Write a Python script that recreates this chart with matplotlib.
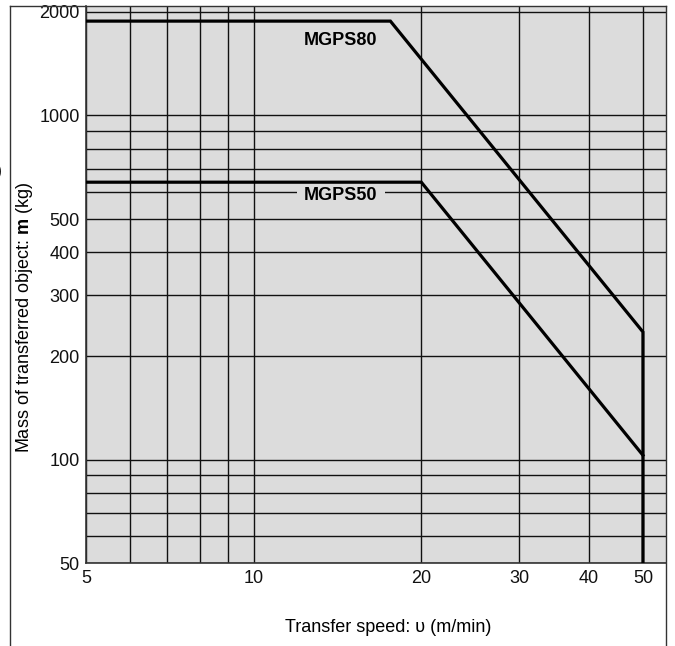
import matplotlib
matplotlib.use("Agg")
import matplotlib.pyplot as plt
from matplotlib.lines import Line2D

plt.rcParams["font.family"] = ["Liberation Sans", "DejaVu Sans"]
plt.rcParams["mathtext.fontset"] = "custom"
plt.rcParams["mathtext.rm"] = "Liberation Sans"
plt.rcParams["mathtext.bf"] = "Liberation Sans:bold"

# Data
mgps80_speed = [5, 17.6, 50, 50]
mgps80_mass = [1880, 1880, 235, 50]
mgps50_speed = [5, 20, 50]
mgps50_mass = [640, 640, 103]

x_grid = [5, 6, 7, 8, 9, 10, 20, 30, 40, 50]
x_labels = [5, 10, 20, 30, 40, 50]
y_grid = [50, 60, 70, 80, 90, 100, 200, 300, 400, 500, 600, 700, 800, 900, 1000, 2000]
y_labels = [50, 100, 200, 300, 400, 500, 1000, 2000]

bg = "#dcdcdc"
fs = 13

fig = plt.figure(figsize=(6.75, 6.46), dpi=100)
ax = fig.add_axes([86 / 675, 1 - 563.3 / 646, 580 / 675, 557.3 / 646])
ax.set_facecolor(bg)
ax.set_xscale("log")
ax.set_yscale("log")
ax.set_xlim(5, 55)
ax.set_ylim(50, 2080)

ax.xaxis.set_minor_locator(matplotlib.ticker.NullLocator())
ax.yaxis.set_minor_locator(matplotlib.ticker.NullLocator())
ax.set_xticks(x_grid)
ax.set_xticklabels([str(v) if v in x_labels else "" for v in x_grid])
ax.set_yticks(y_grid)
ax.set_yticklabels([str(v) if v in y_labels else "" for v in y_grid])
ax.tick_params(length=0, labelsize=fs, colors="#111111")
ax.tick_params(axis="y", pad=4.5)
ax.tick_params(axis="x", pad=5)
ax.grid(True, color="#111111", linewidth=1.0)
ax.set_axisbelow(True)

for side in ["top", "right"]:
    ax.spines[side].set_visible(False)
for side in ["left", "bottom"]:
    ax.spines[side].set_color("#333333")
    ax.spines[side].set_linewidth(1.2)

ax.plot(mgps80_speed, mgps80_mass, color="black", linewidth=2.3,
        solid_joinstyle="miter", zorder=5)
ax.plot(mgps50_speed, mgps50_mass, color="black", linewidth=2.3,
        solid_joinstyle="miter", zorder=5)

label_x = 5 * 10 ** ((341 - 86) / 557)
ax.text(label_x, 1656, "MGPS80", fontsize=fs, fontweight="bold",
        ha="center", va="center", zorder=3)
ax.text(label_x, 585, "MGPS50", fontsize=fs, fontweight="bold",
        ha="center", va="center", zorder=3,
        bbox=dict(facecolor=bg, edgecolor="none", pad=5))

fig.text(388 / 675, 1 - 628 / 646, "Transfer speed: υ (m/min)", fontsize=fs,
         ha="center", va="center")
fig.text(25 / 675, 1 - 317 / 646, r"Mass of transferred object: $\mathbf{m}$ (kg)",
         fontsize=fs, rotation=90, ha="center", va="center")
fig.text(-1 / 675, 1 - 172 / 646, ")", fontsize=fs, ha="center", va="center")

# outer frame (open at the bottom)
frame = dict(color="#333333", linewidth=1.0, transform=fig.transFigure)
fig.add_artist(Line2D([10 / 675, 10 / 675], [0, 1 - 6 / 646], **frame))
fig.add_artist(Line2D([10 / 675, 666 / 675], [1 - 6 / 646, 1 - 6 / 646], **frame))
fig.add_artist(Line2D([666 / 675, 666 / 675], [0, 1 - 6 / 646], **frame))

fig.savefig("out.png", dpi=100)
